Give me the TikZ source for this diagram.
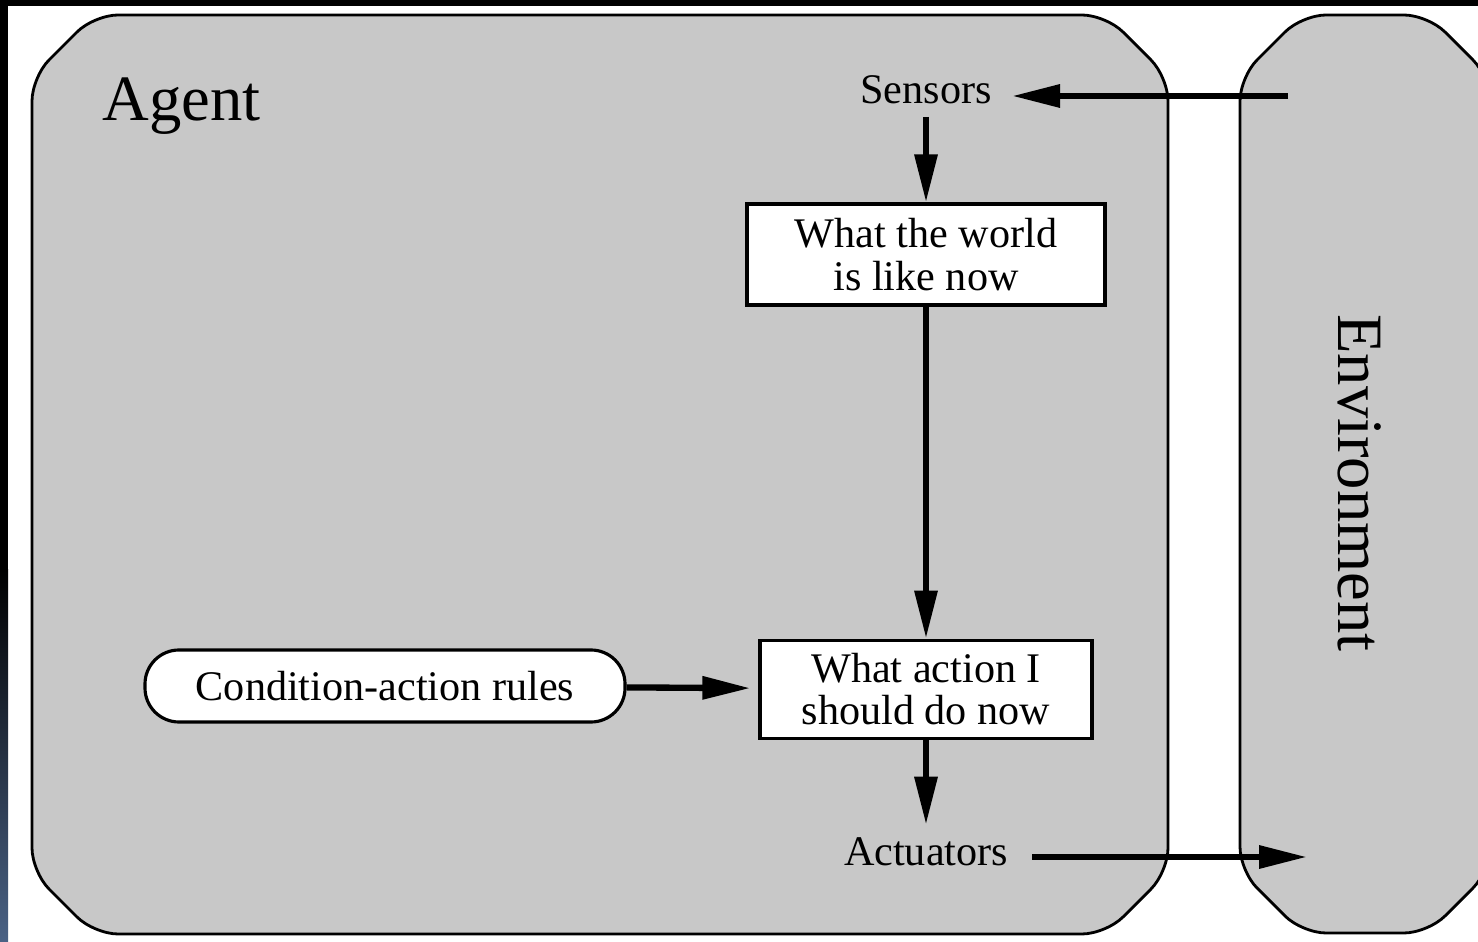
\documentclass[tikz,border=0pt]{standalone}
\usepackage{fontspec}
\setmainfont{Liberation Serif}
\usetikzlibrary{arrows.meta, positioning}
\definecolor{panelgray}{RGB}{200,200,200}
\definecolor{stripblue}{RGB}{74,98,133}

\begin{document}
\begin{tikzpicture}[align=center,node distance=3.32cm,font=\fontsize{12}{12}\selectfont]
\tikzstyle{panel}=[fill=panelgray,draw=black,line width=0.8pt,rounded corners=2.4mm]
\tikzstyle{statebox}=[rectangle,draw=black,fill=white,line width=0.9pt]
\tikzstyle{rulebox}=[rectangle,draw=black,fill=white,line width=0.9pt,rounded corners=3.4mm,minimum width=4.8cm,minimum height=0.72cm]
\tikzstyle{flow}=[-{Triangle[length=4.8mm,width=2.2mm]},line width=1.8pt]
\tikzstyle{bigtitle}=[font=\fontsize{18.4}{20}\selectfont]

\useasboundingbox (0,0) rectangle (14.78,-9.42);
% screen around the figure
\fill[white] (0,0) rectangle (14.78,-9.42);
\fill[black] (0,0) rectangle (14.78,-0.06);
\fill[black] (0,0) rectangle (0.08,-5.7);
\shade[top color=black,bottom color=stripblue] (0,-5.7) rectangle (0.08,-9.42);

% agent and environment panels
\draw[panel] (0.32,-0.77) -- (0.94,-0.15) -- (11.06,-0.15) -- (11.68,-0.77)
  -- (11.68,-8.72) -- (11.06,-9.34) -- (0.94,-9.34) -- (0.32,-8.72) -- cycle;
\draw[panel] (12.40,-0.77) -- (13.02,-0.15) -- (14.28,-0.15) -- (14.90,-0.77)
  -- (14.90,-8.71) -- (14.28,-9.33) -- (13.02,-9.33) -- (12.40,-8.71) -- cycle;

\node[bigtitle,anchor=base west] (agent) at (0.90,-1.21) {Agent};
\node[bigtitle,rotate=-90] (env) at (13.60,-4.83) {Environment};

\node[anchor=base] (sensors) at (9.26,-1.04) {Sensors};
\node[statebox,minimum width=3.58cm,minimum height=1.01cm] (world) at (9.26,-2.545) {What the world\\is like now};
\node[statebox,minimum width=3.32cm,minimum height=0.98cm] (action) [below = of world] {What action I\\should do now};
\node[rulebox] (rules) at (3.85,-6.86) {Condition-action rules};
\node[anchor=base] (actuators) at (9.26,-8.65) {Actuators};

\coordinate (percept) at (12.88,-0.96);
\coordinate (effect) at (13.07,-8.57);

\draw[flow,shorten >=0.8mm] (percept) -- (percept -| sensors.east);
\path
  	(sensors) edge [flow] (world)
  	(world) edge [flow] (action)
  	(rules) edge [flow,shorten >=0.8mm] (action)
  	(action) edge [flow] (actuators);
\draw[flow,shorten <=1.2mm] (actuators.east |- effect) -- (effect);
\end{tikzpicture}
\end{document}
